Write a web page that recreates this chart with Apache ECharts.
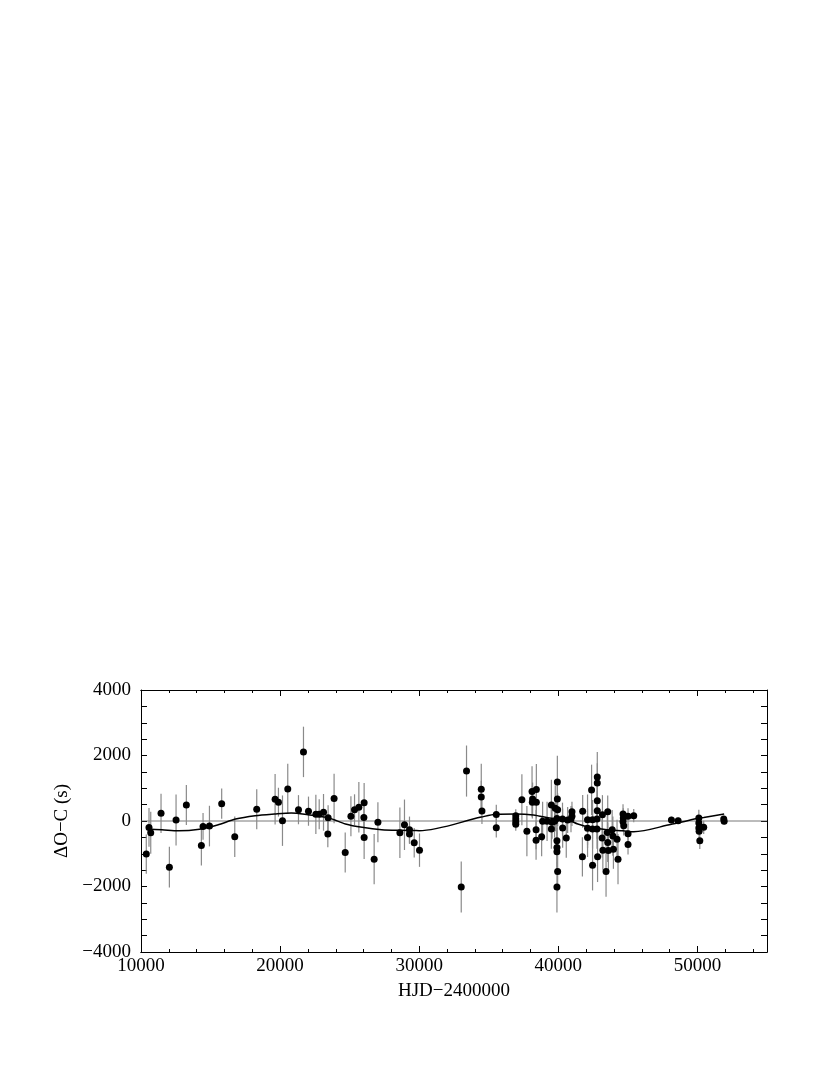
<!DOCTYPE html>
<html>
<head>
<meta charset="utf-8">
<script src="https://cdn.jsdelivr.net/npm/echarts@6/dist/echarts.min.js"></script>
<style>html,body{margin:0;padding:0;background:#fff}#c{width:830px;height:1075px}</style>
</head>
<body>
<div id="c"></div>
<script>
// Observations: HJD-2400000, O-C (s), error (s)
const hjd = [10380,10575,10700,11440,12040,12520,13260,14340,14460,14920,15800,16740,18320,
 19640,19880,20170,20550,21320,21680,22040,22570,22810,23120,23450,23430,23880,24680,25090,25350,25660,26040,26020,26040,26760,27030,28610,28940,29300,29300,29640,
 30020,33020,33400,34460,34460,34510,35540,35540,36940,36940,36940,36940,37380,37740,
 38110,38150,38130,38420,38420,38400,38400,38800,38870,39190,39500,39550,39500,39730,39780,39930,39930,39950,39900,39900,39900,39900,39950,39900,40310,40300,40570,40670,40910,40980,40980,
 41750,41730,42100,42100,42100,42390,42460,42460,42460,42800,42800,42800,42800,42780,42780,42820,43170,43150,43200,43430,43550,43520,43550,43600,43870,43920,43960,44220,44290,44650,44670,44650,44700,45010,45010,45010,45420,
 48130,48610,50100,50100,50100,50120,50170,50450,51890,51920];
const oc = [-1010,-195,-360,235,-1410,30,490,-745,-165,-155,530,-480,360,
 665,575,10,980,345,2110,300,205,205,265,100,-400,685,-960,145,345,420,560,110,-500,-1165,-40,-360,-115,-265,-400,-665,
 -890,-2015,1525,970,730,305,195,-205,160,60,-30,-100,650,-310,
 900,675,575,960,575,-265,-585,-480,-10,-10,490,-40,-245,-10,390,1190,675,345,80,-605,-810,-940,-1545,-2015,-215,60,-520,30,60,285,145,
 297,-1094,40,-225,-500,950,40,-245,-1350,1340,1160,620,310,60,-245,-1094,190,-520,-890,-1545,280,-350,-655,-900,-266,-460,-860,-560,-1165,215,92,-20,-143,143,-390,-720,163,
 30,10,92,-61,-215,-316,-604,-194,61,-10];
const err = [600,590,640,600,620,780,610,610,410,620,460,620,610,
 770,440,770,770,445,770,445,600,460,560,380,400,755,610,610,470,770,600,500,660,770,610,770,770,400,300,450,
 510,780,780,780,500,400,300,300,200,200,200,200,780,770,
 770,500,500,780,500,600,600,600,600,600,770,500,600,500,700,800,600,500,500,600,600,600,600,780,600,500,600,400,400,300,300,
 500,600,770,600,600,770,600,600,770,770,600,600,600,600,600,770,600,600,600,770,500,600,600,600,600,600,600,600,770,300,300,300,300,250,300,300,200,
 100,100,250,200,200,200,250,200,100,100];
// Model curve
const modelX = [10400,11500,12700,14200,15500,16800,18200,19600,20800,22000,23500,24700,25900,27300,28700,29600,30000,34460,35540,36940,38200,39500,40700,41400,42300,43500,44650,45420,48130,48610,50100,50450,51920];
const modelY = [-245,-266,-297,-250,-123,60,163,215,245,190,92,-92,-194,-266,-286,-290,-297,120,205,215,184,82,30,-92,-194,-266,-300,-328,-100,-61,90,110,215];
// Axis ticks
const xMajor = 10000, xMinor = 2000, yTick = 500, yLabelStep = 2000;

const font = 'Liberation Serif';
const pts = hjd.map((x,i)=>[x,oc[i],err[i]]);
const model = modelX.map((x,i)=>[x,modelY[i]]);
const minus = v => String(v).replace('-', '\u2212');

function xAx(pos, interval, len, labels) {
  return {
    type:'value', position:pos, min:10000, max:55000, interval:interval,
    axisLine:{show:true, onZero:false, lineStyle:{color:'#000', width:1}},
    axisTick:{show:true, inside:true, length:len, lineStyle:{color:'#000', width:1}},
    axisLabel:{show:labels, fontFamily:font, fontSize:19, color:'#000', margin:5,
      formatter: v => (v % xMajor === 0 ? minus(v) : '')},
    splitLine:{show:false},
    name: labels ? 'HJD\u22122400000' : '', nameLocation:'middle', nameGap:30,
    nameTextStyle:{fontFamily:font, fontSize:19, color:'#000'}
  };
}
function yAx(pos, labels) {
  return {
    type:'value', position:pos, min:-4000, max:4000, interval:yTick,
    axisLine:{show:true, onZero:false, lineStyle:{color:'#000', width:1}},
    axisTick:{show:true, inside:true, length:6, lineStyle:{color:'#000', width:1}},
    axisLabel:{show:labels, fontFamily:font, fontSize:19, color:'#000', margin:10,
      formatter: v => (v % yLabelStep === 0 ? minus(v) : '')},
    splitLine:{show:false},
    name: labels ? '\u0394O\u2212C (s)' : '', nameLocation:'middle', nameGap:53,
    nameTextStyle:{fontFamily:font, fontSize:19, color:'#000'}
  };
}

const chart = echarts.init(document.getElementById('c'), null, {renderer:'canvas'});
chart.setOption({
  animation:false,
  backgroundColor:'#fff',
  grid:{left:141, right:63, top:690, bottom:123, containLabel:false},
  xAxis:[xAx('bottom', xMajor, 6, true), xAx('bottom', xMinor, 3, false), xAx('top', xMajor, 6, false), xAx('top', xMinor, 3, false)],
  yAxis:[yAx('left', true), yAx('right', false)],
  series:[
    {
      type:'line', data:[[10000,0],[55000,0]], symbol:'none', silent:true,
      lineStyle:{color:'#555', width:0.8}, z:1
    },
    {
      type:'custom', data:pts, silent:true, z:2,
      renderItem:(params, api) => {
        const x = api.value(0), y = api.value(1), e = api.value(2);
        const a = api.coord([x, y - e]), b = api.coord([x, y + e]);
        return {type:'line', shape:{x1:a[0], y1:a[1], x2:b[0], y2:b[1]},
          style:{stroke:'#8a8a8a', lineWidth:1.2}};
      },
      encode:{x:0, y:1}
    },
    {
      type:'line', data:model, symbol:'none', smooth:0.3, silent:true, z:3,
      lineStyle:{color:'#000', width:1.5}
    },
    {
      type:'scatter', data:pts.map(p=>[p[0],p[1]]), symbol:'circle', symbolSize:7, z:4,
      itemStyle:{color:'#000', opacity:1}
    }
  ]
});
</script>
</body>
</html>
